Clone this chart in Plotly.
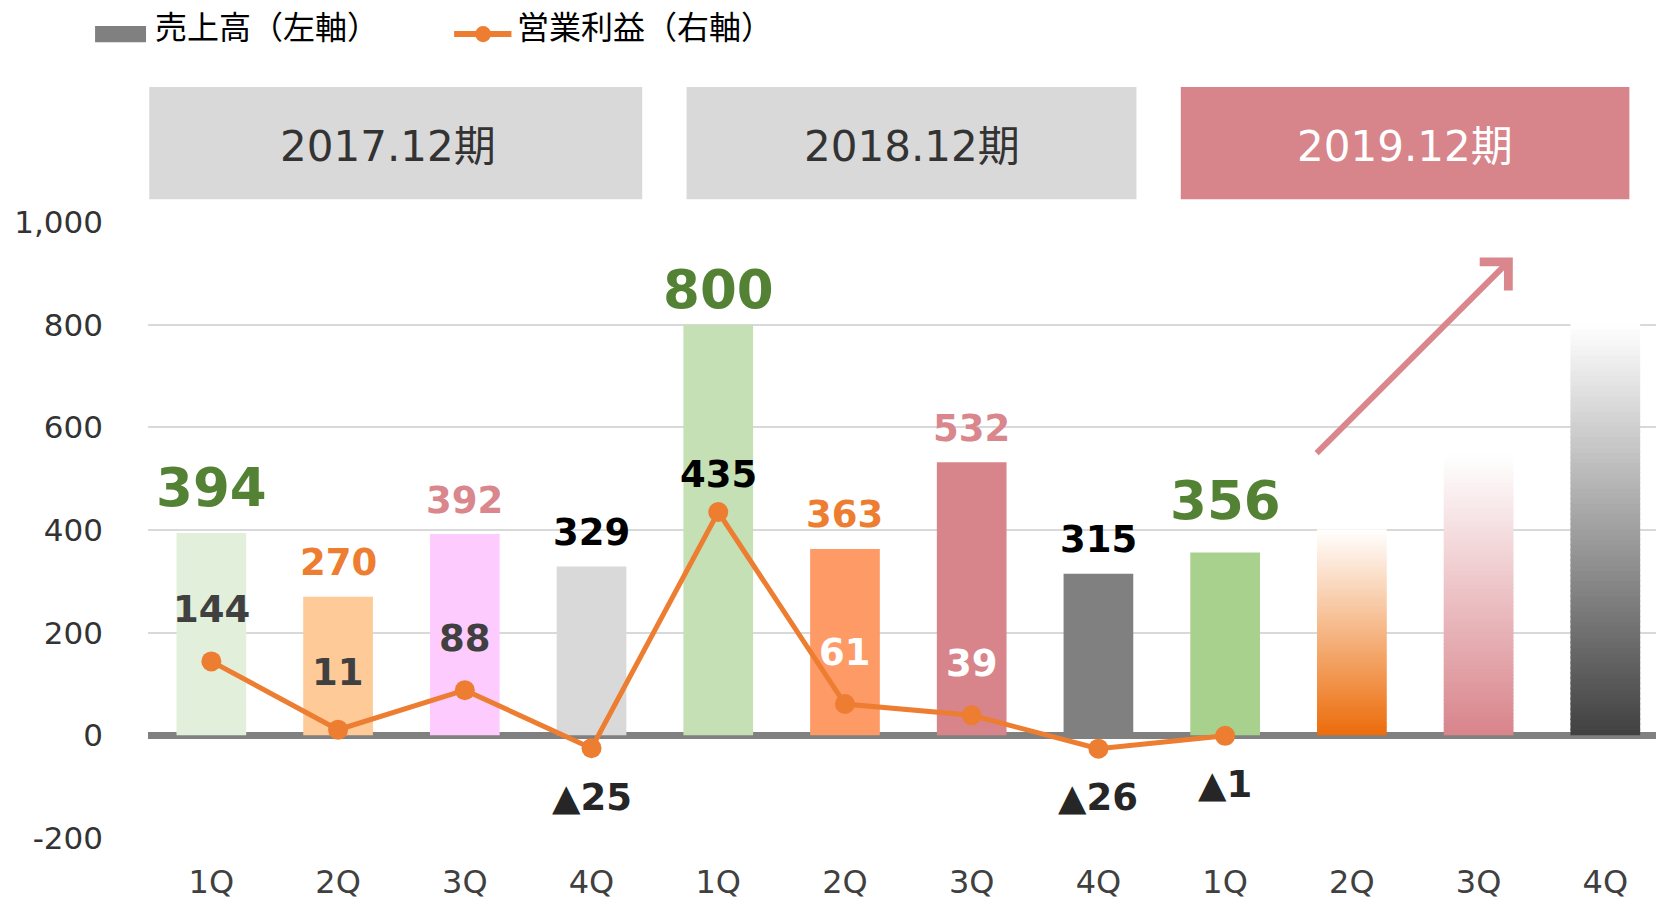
import plotly.graph_objects as go

# ---------------- data ----------------
quarters = ["1Q", "2Q", "3Q", "4Q", "1Q", "2Q", "3Q", "4Q", "1Q", "2Q", "3Q", "4Q"]
periods = ["2017.12期", "2018.12期", "2019.12期"]
sales = [394, 270, 392, 329, 800, 363, 532, 315, 356]          # 売上高 (actual)
sales_outlook = [400, 545, 800]                               # 2019 2Q-4Q (image bars)
profit = [144, 11, 88, -25, 435, 61, 39, -26, -1]             # 営業利益
y_tick_vals = [-200, 0, 200, 400, 600, 800, 1000]
y_tick_text = ["-200", "0", "200", "400", "600", "800", "1,000"]

# ---------------- styles ----------------
bar_colors = ["#e2efda", "#fdca98", "#fdcbfe", "#d9d9d9",
              "#c5e0b4", "#fe9a66", "#d8848b", "#808080", "#a9d18e"]
outlook_colors = ["#ec6c0a", "#d8848b", "#404040"]
q_label_color = {0: "#548235", 1: "#ed7d31", 2: "#d9868d", 3: "#000000"}
profit_label_colors = ["#404040", "#404040", "#404040", "#262626",
                       "#000000", "#ffffff", "#ffffff", "#262626", "#262626"]
sales_label_nudge = {4: -11, 8: 6}      # px, label placement tweaks
profit_label_nudge = {4: -14, 1: 5}
FONT = "DejaVu Sans, Noto Sans CJK JP"
JP = "Noto Sans CJK JP"
BAR_W = 0.55
CJK_FIX = 23   # compensates the vertical offset of CJK-font annotations


def blend(c1, c2, t):
    a = [int(c1[i:i + 2], 16) for i in (1, 3, 5)]
    b = [int(c2[i:i + 2], 16) for i in (1, 3, 5)]
    return "#" + "".join(f"{round(a[k] + (b[k] - a[k]) * t):02x}" for k in range(3))


fig = go.Figure()

# actual sales bars
fig.add_bar(x=list(range(len(sales))), y=sales, marker_color=bar_colors,
            marker_line_width=0, width=BAR_W, showlegend=False, hoverinfo="skip")

# outlook bars drawn as vertical gradient (stack of thin segments)
N = 80
for i, (v, c) in enumerate(zip(sales_outlook, outlook_colors)):
    xi = len(sales) + i
    step = v / N
    fig.add_bar(x=[xi] * N, y=[step * 1.3] * N, base=[k * step for k in range(N)],
                marker_color=[blend(c, "#ffffff", (k + 0.5) / N) for k in range(N)],
                marker_line_width=0, width=BAR_W, showlegend=False, hoverinfo="skip")

# operating profit line (right axis, same scale)
fig.add_scatter(x=list(range(len(profit))), y=profit, yaxis="y2", mode="lines+markers",
                line=dict(color="#ed7d31", width=5), marker=dict(size=20, color="#ed7d31"),
                showlegend=False, hoverinfo="skip")

ann = []
# sales labels
for i, v in enumerate(sales):
    q = i % 4
    big = q == 0
    ann.append(dict(x=i, y=v, xref="x", yref="y", text=f"<b>{v}</b>", showarrow=False,
                    yanchor="middle", yshift=(46 if big else 34) + sales_label_nudge.get(i, 0),
                    font=dict(family=FONT, size=53 if big else 37, color=q_label_color[q])))
# profit labels
for i, v in enumerate(profit):
    txt = f"{v}" if v >= 0 else f"▲{abs(v)}"
    ann.append(dict(x=i, y=v, xref="x", yref="y2", text=f"<b>{txt}</b>", showarrow=False,
                    yanchor="middle",
                    yshift=(52 if v >= 0 else -49) + profit_label_nudge.get(i, 0),
                    font=dict(family=FONT, size=37, color=profit_label_colors[i])))

# period header boxes
header_spans = [(-0.49, 3.40), (3.75, 7.30), (7.65, 11.19)]
header_text_x = [1.39, 5.525, 9.42]
header_fill = ["#d9d9d9", "#d9d9d9", "#d8848b"]
header_font = ["#333333", "#333333", "#ffffff"]
shapes = []
for (x0, x1), tx, p, fc, tc in zip(header_spans, header_text_x, periods, header_fill, header_font):
    shapes.append(dict(type="rect", xref="x", yref="paper", x0=x0, x1=x1,
                       y0=1.037, y1=1.219, fillcolor=fc, line_width=0, layer="above"))
    ann.append(dict(x=tx, y=1.128, xref="x", yref="paper", text=p, yshift=CJK_FIX,
                    showarrow=False, font=dict(family=FONT, size=42, color=tc)))

# trend arrow
ann.append(dict(x=10.27, y=931, ax=8.71, ay=547, xref="x", yref="y", axref="x", ayref="y",
                showarrow=True, arrowhead=4, arrowsize=1.3, arrowwidth=6,
                arrowcolor="#d9868d", text=""))

# legend (custom)
shapes.append(dict(type="rect", xref="paper", yref="paper", x0=-0.0351, x1=-0.0013,
                   y0=1.292, y1=1.318, fillcolor="#808080", line_width=0))
ann.append(dict(x=0.0033, y=1.307, xref="paper", yref="paper", xanchor="left",
                text="売上高（左軸）", showarrow=False, yshift=CJK_FIX + 10,
                font=dict(family=JP, size=32, color="#000000")))
shapes.append(dict(type="line", xref="paper", yref="paper", x0=0.203, x1=0.241,
                   y0=1.305, y1=1.305, line=dict(color="#ed7d31", width=6)))
shapes.append(dict(type="circle", xref="paper", yref="paper", x0=0.2169, x1=0.2275,
                   y0=1.292, y1=1.318, fillcolor="#ed7d31", line_width=0))
ann.append(dict(x=0.2434, y=1.307, xref="paper", yref="paper", xanchor="left",
                text="営業利益（右軸）", showarrow=False, yshift=CJK_FIX + 10,
                font=dict(family=JP, size=32, color="#000000")))

fig.update_layout(
    width=1656, height=902,
    margin=dict(l=148, r=0, t=222, b=64),
    plot_bgcolor="#ffffff", paper_bgcolor="#ffffff",
    barmode="overlay",
    showlegend=False,
    annotations=ann, shapes=shapes,
    xaxis=dict(range=[-0.5, 11.4], tickvals=list(range(len(quarters))), ticktext=quarters,
               showgrid=False, zeroline=False, showline=False, ticks="",
               tickfont=dict(family=FONT, size=32, color="#404040"),
               ticklabelstandoff=22),
    yaxis=dict(range=[-200, 1000], tickvals=y_tick_vals, ticktext=y_tick_text,
               showgrid=True, gridcolor="#d9d9d9", gridwidth=2,
               zeroline=True, zerolinecolor="#808080", zerolinewidth=7,
               showline=False, ticks="",
               tickfont=dict(family=FONT, size=31, color="#333333"),
               ticklabelstandoff=44),
    yaxis2=dict(range=[-200, 1000], overlaying="y", side="right", visible=False),
)

fig.write_html("out.html", config={"displayModeBar": False},
               post_script="document.body.style.margin='0';document.body.style.overflow='hidden';")
